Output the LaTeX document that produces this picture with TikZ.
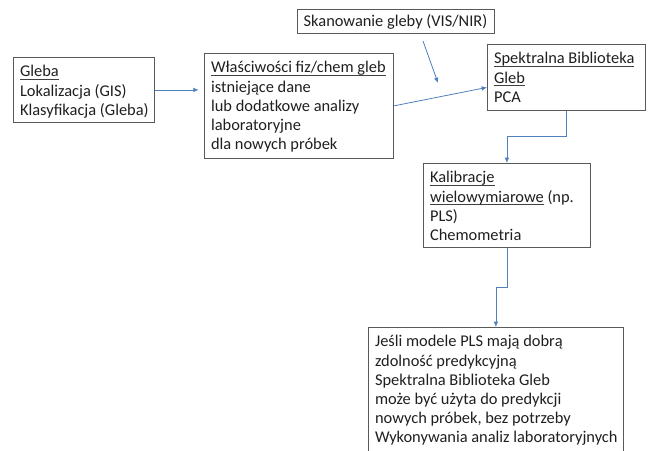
\documentclass[tikz,border=0pt]{standalone}
\usepackage{fontspec}
\setmainfont{Carlito}
\usetikzlibrary{arrows.meta}
\definecolor{conn}{RGB}{79,129,189}
\definecolor{frame}{RGB}{89,89,89}
\newcommand\undl[1]{\setbox0\hbox{#1}\rlap{\color{black!75}\rule[-2pt]{\wd0}{0.55pt}}\box0\relax}
\newcommand\bxt[3]{\parbox[t][#2][t]{#1}{\strut #3}}
\tikzset{
  box/.style={draw=frame, line width=0.6pt, anchor=north west, inner xsep=5pt, inner ysep=4.5pt,
    text=black!88, font=\fontsize{12.3}{14.4}\selectfont},
  openbox/.style={box, draw=none},
  conline/.style={draw=conn, line width=0.6pt},
  conarrow/.style={conline, -{Latex[length=4pt,width=3.5pt]}}
}
\begin{document}
\begin{tikzpicture}[x=0.75pt, y=-0.75pt]
\useasboundingbox (0,0) rectangle (648,450);

\node[box] (gleba) at (13,57) {\bxt{95.75pt}{39.75pt}{\mbox{\undl{Gleba}}\\ \mbox{Lokalizacja (GIS)}\\ \mbox{Klasyfikacja (Gleba)}}};

\node[box] (wlas) at (204,53) {\bxt{131.75pt}{69.75pt}{\mbox{\undl{Właściwości fiz/chem gleb}}\\ \mbox{istniejące dane}\\ \mbox{lub dodatkowe analizy}\\ \mbox{laboratoryjne}\\ \mbox{dla nowych próbek}}};

\node[draw=frame, line width=0.6pt, text=black!88, font=\fontsize{12.3}{14.4}\selectfont,
  minimum width=147.75pt, minimum height=18pt, inner sep=0pt] (skan) at (395.5,21.5) {Skanowanie gleby (VIS/NIR)};

\node[box] (spek) at (487,44) {\bxt{108.5pt}{40.5pt}{\mbox{\undl{Spektralna Biblioteka}}\\ \mbox{\undl{Gleb}}\\ \mbox{PCA}}};

\node[box] (kal) at (423,163) {\bxt{115.25pt}{54pt}{\mbox{\undl{Kalibracje}}\\ \mbox{\undl{wielowymiarowe} (np.}\\ \mbox{PLS)}\\ \mbox{Chemometria}}};

\node[openbox] (bot) at (368,327) {\bxt{181.25pt}{84pt}{\mbox{Jeśli modele PLS mają dobrą}\\ \mbox{zdolność predykcyjną}\\ \mbox{Spektralna Biblioteka Gleb}\\ \mbox{może być użyta do predykcji}\\ \mbox{nowych próbek, bez potrzeby}\\ \mbox{Wykonywania analiz laboratoryjnych}}};
\draw[draw=frame, line width=0.6pt] (bot.south west) -- (bot.north west) -- (bot.north east) -- (bot.south east);

% connectors
\draw[conarrow, shorten >=4pt] (gleba.east) -- (gleba.east -| wlas.west);
\coordinate (s1) at (423,41);
\coordinate (s2) at (438,83);
\draw[conarrow] (s1) -- (s2);
\draw[conarrow] (wlas.east) -- ([yshift=-7.5pt]spek.west);
\draw[conarrow] (spek.south) -- ++(0,26) -| (kal.north);
\draw[conarrow] (kal.south) -- ++(0,40) -| (bot.north);
\end{tikzpicture}
\end{document}
